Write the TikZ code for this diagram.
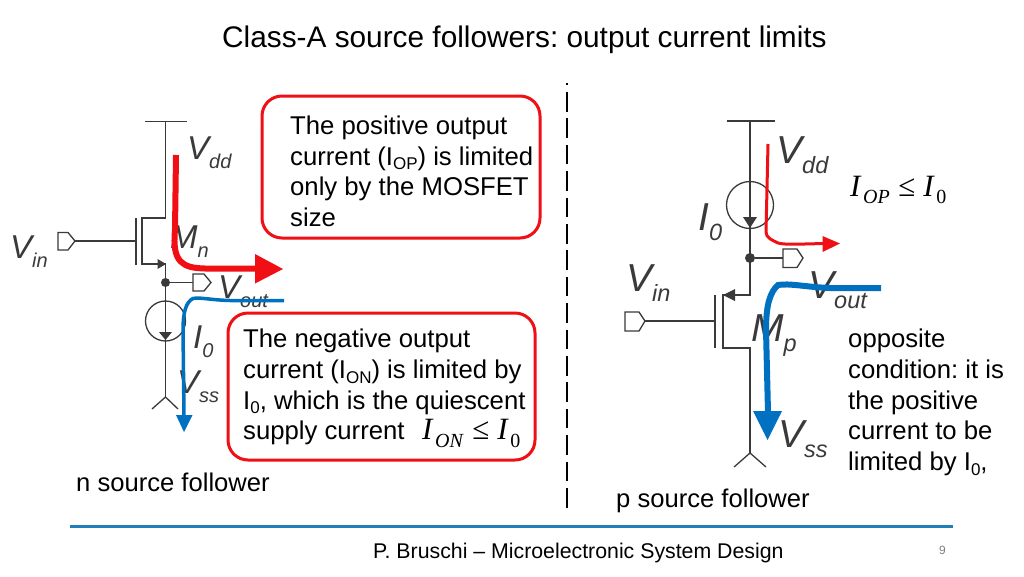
\documentclass[tikz,border=0pt]{standalone}
\usepackage{fontspec}
\setmainfont{Liberation Sans}
\newfontfamily\tnr{Liberation Serif}
\definecolor{wire}{HTML}{3A3A3A}
\definecolor{cred}{HTML}{F00F14}
\definecolor{cblue}{HTML}{0070C0}
\definecolor{rulec}{HTML}{1F7FB8}
\newcommand{\fs}[1]{\fontsize{#1}{#1}\selectfont}
\newcommand{\sm}[3]{{\fs{33}\itshape #2\raisebox{-9pt}{\fs{#1}#3}}}
\newcommand{\bg}[3]{{\fs{39}\itshape #2\raisebox{-10pt}{\fs{#1}#3}}}
\newcommand{\sub}[1]{\raisebox{-4.5pt}{\fs{17}#1}}
\newcommand{\mth}[2]{{\tnr\fs{31}\textit{I}\hspace{1.5pt}\raisebox{-7.5pt}{\fs{20}\textit{#1}}\hspace{8.5pt}≤\hspace{8pt}\textit{I}\hspace{1.5pt}\raisebox{-7.5pt}{\fs{20}#2}}}
\tikzset{
 x=1pt,y=-1pt,
 wireline/.style={draw=wire,line width=1.3pt},
 fulltip/.style={fill=wire,draw=none},
 pin/.style={draw=wire,line width=1.3pt,fill=white,line join=miter},
 junction/.style={circle,fill=wire,draw=none,inner sep=0pt,minimum size=#1},
 csource/.style={circle,draw=wire,line width=1.3pt,inner sep=0pt,minimum size=#1},
 lab/.style={inner sep=0pt,anchor=base west,text=wire},
 txt/.style={inner sep=0pt,anchor=base west,text=black,font=\frenchspacing\fs{25.6}},
 para/.style={inner sep=0pt,anchor=north west,align=left,text=black,font=\frenchspacing\fontsize{25.7}{30.7}\selectfont},
 callout/.style={draw=cred,line width=3pt,rounded corners=20pt,fill=white},
}
\begin{document}
\begin{tikzpicture}
\useasboundingbox (0,0) rectangle (1024,576);
\fill[white] (0,0) rectangle (1024,576);
% title
\node[txt,font=\frenchspacing\fs{29.8}] (title) at (222,47) {Class-A source followers: output current limits};
% separator
\coordinate (sepA) at (567,83); \coordinate (sepB) at (567,508);
\draw[black,line width=2.4pt,dash pattern=on 19.5pt off 6.9pt,dash phase=17.4pt] (sepA) -- (sepB);
% callouts
\draw[callout] (262,96) rectangle (540,238);
\draw[callout] (228,313) rectangle (535,460);
% left circuit
\coordinate (lbarA) at (145,121.5); \coordinate (lbarB) at (187,121.5);
\coordinate (ltop) at (165.5,121.5); \coordinate (ld) at (165.5,218);
\coordinate (ldi) at (142,218); \coordinate (lsi) at (142,264);
\coordinate (ls) at (165.5,264); \coordinate (lout) at (165.5,282.5);
\coordinate (lbot) at (165.5,397); \coordinate (lfa) at (152,409); \coordinate (lfb) at (178,409);
\coordinate (lgA) at (136,218); \coordinate (lgB) at (136,265); \coordinate (lg) at (136,241);
\draw[wireline] (lbarA) -- (lbarB);
\draw[wireline] (ltop) -- (ld) -- (ldi) -- (lsi) -- (ls) -- (lbot);
\draw[wireline] (lgA) -- (lgB);
\draw[wireline] (lfa) -- (lbot) -- (lfb);
\fill[fulltip] (166,264) -- (157.5,259) -- (157.5,269) -- cycle;
\node[junction=9pt] (ljun) at (lout) {};
\node[csource=40pt] (lsrc) at (165.5,321) {};
\fill[fulltip] (165.5,340) -- (159,332) -- (172,332) -- cycle;
\draw[pin] (58,232.5) -- (68,232.5) -- (75,241) -- (68,250) -- (58,250) -- cycle;
\coordinate (lpin) at (75,241);
\draw[wireline] (lpin) -- (lg);
\coordinate (lpo) at (193,282.5);
\draw[wireline] (ljun) -- (lpo);
\draw[pin] (193,274) -- (204,274) -- (211,282.5) -- (204,291) -- (193,291) -- cycle;
\node[lab] (lvdd) at (187,159) {\sm{20}{V}{dd}};
\node[lab] (lvin) at (10,258) {\sm{20}{V}{in}};
\node[lab] (lmn) at (170,248) {\sm{20}{M}{n}};
\node[lab] (lvout) at (218,298) {\sm{20}{V}{out}};
\node[lab] (li0) at (193,348) {\sm{20}{I}{0}};
\node[lab] (lvss) at (177,393) {\sm{20}{V}{ss}};
% left currents
\draw[cred,line width=6pt] (176,155) -- (175,230) .. controls (172,262) and (182,268) .. (205,268.5) -- (256,268.5);
\fill[cred] (283,269) -- (255,254) -- (255,283.5) -- cycle;
\draw[cblue,line width=3.5pt] (284,300.5) -- (230,300.5) .. controls (210,300) and (200,297) .. (193,298.5) .. controls (186,302) and (183,312) .. (183,330) -- (184,416);
\fill[cblue] (184,432) -- (176,415) -- (192.5,415) -- cycle;
% right circuit
\coordinate (rbarA) at (727,121); \coordinate (rbarB) at (775,121);
\coordinate (rtop) at (750,121); \coordinate (rs) at (750,295); \coordinate (rsi) at (723,295);
\coordinate (rdi) at (723,348); \coordinate (rd) at (750,348); \coordinate (rbot) at (750,453);
\coordinate (rfa) at (734,467); \coordinate (rfb) at (766,467);
\coordinate (rjn) at (750,258); \coordinate (rgA) at (715,295); \coordinate (rgB) at (715,348); \coordinate (rg) at (715,321);
\draw[wireline] (rbarA) -- (rbarB);
\draw[wireline] (rtop) -- (rs) -- (rsi) -- (rdi) -- (rd) -- (rbot);
\draw[wireline] (rgA) -- (rgB);
\draw[wireline] (rfa) -- (rbot) -- (rfb);
\fill[fulltip] (723,295) -- (735,289) -- (735,301) -- cycle;
\node[junction=10pt] (rjun) at (rjn) {};
\node[csource=47pt] (rsrc) at (750,205) {};
\fill[fulltip] (750,228) -- (743,217) -- (757,217) -- cycle;
\coordinate (rpo) at (783,258);
\draw[wireline] (rjun) -- (rpo);
\draw[pin] (783,249) -- (797,249) -- (803,258) -- (797,267.5) -- (783,267.5) -- cycle;
\coordinate (rpin) at (645,321);
\draw[wireline] (rpin) -- (rg);
\draw[pin] (625,312) -- (639,312) -- (645,321) -- (639,331) -- (625,331) -- cycle;
\node[lab] (rvdd) at (776,163) {\bg{23.5}{V}{dd}};
\node[lab] (ri0) at (698,230) {\bg{23.5}{I}{0}};
\node[lab] (rvin) at (626,291) {\bg{23.5}{V}{in}};
\node[lab] (rvout) at (808,298) {\bg{23.5}{V}{out}};
\node[lab] (rmp) at (751,341) {\bg{23.5}{M}{p}};
\node[lab] (rvss) at (778,447) {\bg{23.5}{V}{ss}};
% right currents
\draw[cred,line width=3pt] (768,144) -- (766,232) .. controls (766,238) and (772,240) .. (778,243) .. controls (785,245) and (800,244) .. (825,243.5);
\fill[cred] (840,243.5) -- (822.5,236) -- (822.5,252) -- cycle;
\draw[cblue,line width=6pt] (881,288) -- (830,288) .. controls (805,287) and (790,283) .. (778,285) .. controls (770,292) and (766,305) .. (766,330) -- (768,412);
\fill[cblue] (767.5,440) -- (753,411) -- (782,411) -- cycle;
% texts
\node[para] (t1) at (290,115.5) {The positive output\\current (I\sub{OP}) is limited\\only by the MOSFET\\size};
\node[para] (t2) at (243,329) {The negative output\\current (I\sub{ON}) is limited by\\I\sub{0}, which is the quiescent\\supply current\hspace{17.5pt}\mth{ON}{0}};
\node[para] (t3) at (848,329) {opposite\\condition: it is\\the positive\\current to be\\limited by I\sub{0},};
\node[inner sep=0pt,anchor=base west] (m1) at (850,196) {\mth{OP}{0}};
\node[txt] (ln) at (76,491) {n source follower};
\node[txt] (lp) at (616,507) {p source follower};
% footer
\coordinate (ruleA) at (70,526); \coordinate (ruleB) at (953,526);
\draw[rulec,line width=3pt] (ruleA) -- (ruleB);
\node[txt,font=\frenchspacing\fs{21.3}] (foot) at (373,558) {P. Bruschi – Microelectronic System Design};
\node[txt,font=\fs{12},text=gray] (page) at (939,554) {9};
\end{tikzpicture}
\end{document}
